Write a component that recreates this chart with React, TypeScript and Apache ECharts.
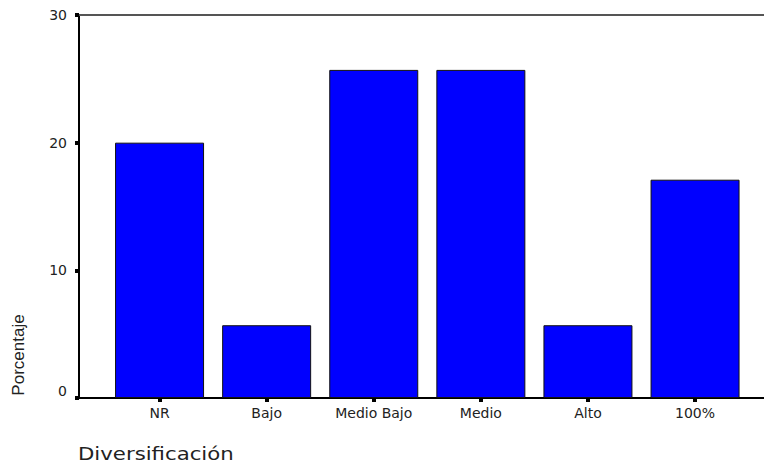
import React, { useEffect, useRef } from "react";
import * as echarts from "echarts";

const categories = ["NR", "Bajo", "Medio Bajo", "Medio", "Alto", "100%"];
const percentages = [20.0, 5.7, 25.7, 25.7, 5.7, 17.1];
const yTicks = { min: 0, max: 30, interval: 10 };
const xTitle = "Diversificación";
const yTitle = "Porcentaje";

export default function App() {
  const ref = useRef<HTMLDivElement>(null);
  useEffect(() => {
    if (!ref.current) return;
    const chart = echarts.init(ref.current, undefined, { renderer: "svg" });
    const labelFont = "DejaVu Sans";
    chart.setOption({
      animation: false,
      backgroundColor: "#ffffff",
      grid: [
        { left: 79, right: 0, top: 15, bottom: 68 },
        { left: 106, right: 15.4, top: 15, bottom: 68 },
      ],
      xAxis: [
        {
          gridIndex: 0,
          type: "value",
          min: 0,
          max: 1,
          position: "bottom",
          axisLine: { show: true, lineStyle: { color: "#000", width: 2 } },
          axisTick: { show: false },
          axisLabel: { show: false },
          splitLine: { show: false },
        },
        {
          gridIndex: 0,
          type: "value",
          min: 0,
          max: 1,
          position: "top",
          axisLine: { show: true, lineStyle: { color: "#555", width: 2 } },
          axisTick: { show: false },
          axisLabel: { show: false },
          splitLine: { show: false },
        },
        {
          gridIndex: 1,
          type: "category",
          data: categories,
          position: "bottom",
          axisLine: { show: false },
          axisTick: {
            show: true,
            alignWithLabel: true,
            length: 4,
            lineStyle: { color: "#000", width: 4 },
          },
          axisLabel: {
            show: true,
            interval: 0,
            margin: 8,
            color: "#222",
            fontFamily: labelFont,
            fontSize: 14,
          },
          splitLine: { show: false },
        },
      ],
      yAxis: [
        {
          gridIndex: 0,
          type: "value",
          min: yTicks.min,
          max: yTicks.max,
          interval: yTicks.interval,
          axisLine: { show: true, lineStyle: { color: "#000", width: 2 } },
          axisTick: { show: true, length: 4, lineStyle: { color: "#000", width: 4 } },
          axisLabel: {
            show: true,
            margin: 12,
            color: "#222",
            fontFamily: labelFont,
            fontSize: 14,
            formatter: (v: number) => (v === 0 ? "{z|0}" : String(v)),
            rich: {
              z: { fontFamily: labelFont, fontSize: 14, color: "#222", padding: [0, 0, 14, 0] },
            },
          },
          splitLine: { show: false },
        },
        {
          gridIndex: 1,
          type: "value",
          min: yTicks.min,
          max: yTicks.max,
          show: false,
        },
      ],
      series: [
        {
          type: "bar",
          xAxisIndex: 2,
          yAxisIndex: 1,
          data: percentages,
          barWidth: 89,
          itemStyle: { color: "#0000ff", borderColor: "#111", borderWidth: 1 },
        },
      ],
      graphic: [
        {
          type: "text",
          x: 78,
          y: 454,
          scaleX: 1.25,
          style: {
            text: xTitle,
            fontFamily: labelFont,
            fontSize: 17,
            fill: "#222",
            align: "left",
            verticalAlign: "middle",
          },
        },
        {
          type: "text",
          x: 18,
          y: 355,
          rotation: Math.PI / 2,
          style: {
            text: yTitle,
            fontFamily: "Liberation Sans",
            fontSize: 17,
            fill: "#222",
            align: "center",
            verticalAlign: "middle",
          },
        },
      ],
    });
    return () => chart.dispose();
  }, []);
  return (
    <div
      ref={ref}
      style={{ position: "absolute", left: 0, top: 0, width: 764, height: 466 }}
    />
  );
}
